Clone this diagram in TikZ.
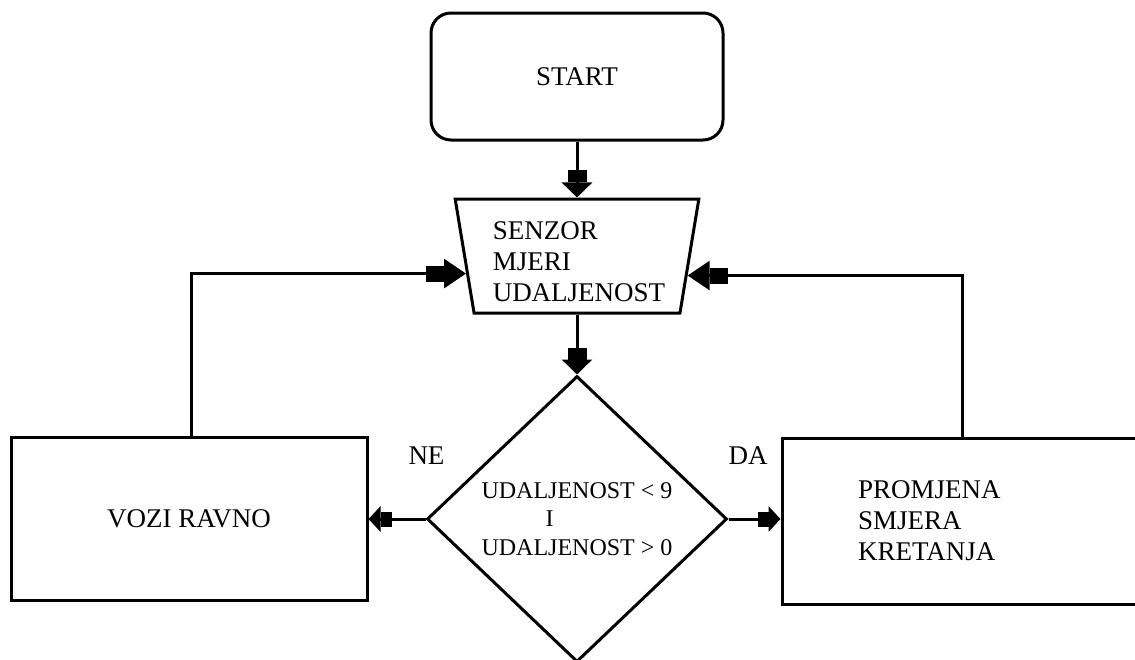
\documentclass[tikz,border=0pt]{standalone}
\usepackage{fontspec}
\setmainfont{Liberation Serif}
\usetikzlibrary{shapes.geometric,arrows.meta,calc}
\begin{document}
\begin{tikzpicture}[x=1pt,y=-1pt,line width=3pt,
  txt/.style={font=\fontsize{27}{31}\selectfont},
  smalltxt/.style={font=\fontsize{24}{28.5}\selectfont},
  box/.style={draw,rectangle,inner sep=0pt,txt},
  downtip/.style={-{Rectangle[length=12pt,width=19pt]Triangle[length=15pt,width=30pt]}},
  sidetip/.style={-{Rectangle[length=18pt,width=16pt]Triangle[length=22pt,width=29pt]}},
  smalltip/.style={-{Rectangle[length=11pt,width=15pt]Triangle[length=12pt,width=25pt]}}]
\useasboundingbox (0,0) rectangle (1135,659);
\clip (0,0) rectangle (1135,659);
% nodes
\node[box,rounded corners=20pt,minimum width=292pt,minimum height=127pt] (start) at (577,76.5) {START};
\node[draw,trapezium,shape border rotate=180,trapezium stretches=true,
      minimum width=245pt,minimum height=114pt,trapezium angle=76,
      inner sep=0pt,txt] (sens) at (577,256) {\phantom{MM}};
\node[align=left,txt,inner sep=0pt] (senstext) at (579,262) {SENZOR\\MJERI\\UDALJENOST};
\node[draw,diamond,minimum width=300pt,minimum height=286pt,inner sep=0pt,
      align=left,smalltxt] (dec) at (577,519) {UDALJENOST < 9\\\hspace*{64pt}I\\UDALJENOST > 0};
\node[box,minimum width=356pt,minimum height=163pt] (vozi) at (189,518.5) {VOZI RAVNO};
\node[box,minimum width=368pt,minimum height=166pt,text width=216pt,inner xsep=76pt,
      align=left] (prom) at (966,521) {PROMJENA\\SMJERA\\KRETANJA};
\node[txt,anchor=base west,inner sep=0pt] (ne) at (407,464) {NE};
\node[txt,anchor=base west,inner sep=0pt] (da) at (727,464) {DA};
% connectors
\draw[downtip] (start.south) -- (sens.90);
\draw[downtip] (sens.270) -- (dec.north);
\draw[smalltip] (dec.west) -- (dec.west -| vozi.east);
\draw[smalltip] (dec.east) -- (dec.east -| prom.west);
\draw[sidetip] ([xshift=2pt]vozi.north) |- (sens.189.2);
\draw[sidetip] ([xshift=-4pt]prom.north) |- (sens.350.7);
\end{tikzpicture}
\end{document}
